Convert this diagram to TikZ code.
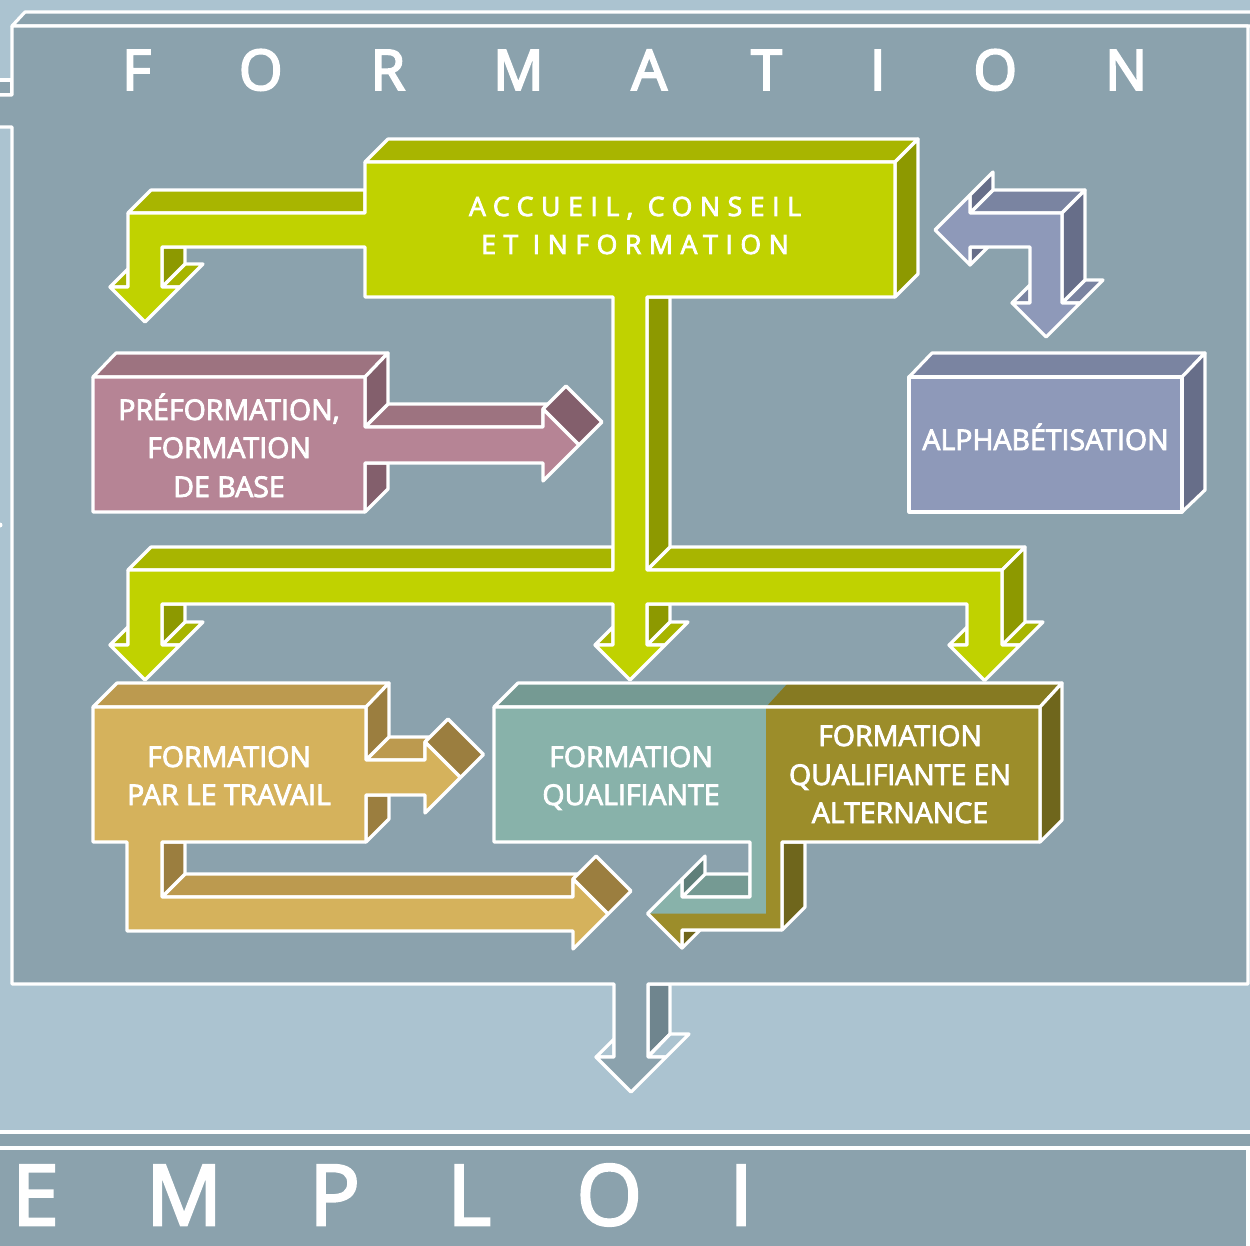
\documentclass[tikz,border=0pt]{standalone}
\usepackage{fontspec}
\setmainfont{Open Sans}
\newfontfamily\boxfont{Open Sans}[FakeBold=3]
\newfontfamily\accfont{Open Sans}[FakeBold=3,LetterSpace=28.5]
\newfontfamily\titlefont{Open Sans}[FakeBold=3.5,LetterSpace=157]
\newfontfamily\emploifont{Open Sans}[FakeBold=3,LetterSpace=104]
\definecolor{lightbg}{HTML}{ABC3D0}
\definecolor{greyf}{HTML}{8BA2AD}
\definecolor{greyd}{HTML}{6F858E}
\definecolor{gfront}{HTML}{C0D200}
\definecolor{gtop}{HTML}{A8B500}
\definecolor{gside}{HTML}{8D9900}
\definecolor{lfront}{HTML}{8E99B9}
\definecolor{ltop}{HTML}{7A84A1}
\definecolor{lside}{HTML}{676E89}
\definecolor{pfront}{HTML}{B68495}
\definecolor{ptop}{HTML}{9D7380}
\definecolor{pside}{HTML}{835F6C}
\definecolor{tfront}{HTML}{D5B25C}
\definecolor{ttop}{HTML}{BC9A4F}
\definecolor{tside}{HTML}{9B7E3F}
\definecolor{qfront}{HTML}{88B2AA}
\definecolor{qtop}{HTML}{759A93}
\definecolor{qside}{HTML}{5F7F79}
\definecolor{ofront}{HTML}{9C8D2A}
\definecolor{otop}{HTML}{867A22}
\definecolor{oside}{HTML}{6F661C}
\begin{document}
\begin{tikzpicture}[x=1pt,y=-1pt,
  face/.style={draw=white,line width=3.2pt,line join=round},
  lbl/.style={text=white,anchor=base,inner sep=0pt,font=\boxfont\fontsize{28.5}{32}\selectfont}]
\useasboundingbox (0,0) rectangle (1250,1246);
\clip (0,0) rectangle (1250,1246);
\fill[lightbg] (0,0) rectangle (1250,1246);

% ---------- FORMATION frame ----------
\draw[face,fill=greyf] (-10,80) rectangle (12,95);
\draw[face,fill=greyf] (12,26)--(25,12)--(1262,12)--(1262,26)--cycle;
\draw[face,fill=greyd] (648,984)--(670,984)--(670,1034)--(648,1056)--cycle;
\draw[face] (648,1057)--(666,1057)--(689,1034)--(670,1034)--cycle;
\draw[face] (596,1057)--(614,1057)--(614,1039)--cycle;
\draw[face,fill=greyf] (12,26)--(1248,26)--(1248,984)--(648,984)--(648,1057)--(666,1057)--(631,1092)--(596,1057)--(614,1057)--(614,984)--(12,984)--(12,127)--(-10,127)--(-10,95)--(12,95)--cycle;
\fill[white] (0,525) circle (2.5);
\node[text=white,anchor=base west,inner sep=0pt,font=\titlefont\fontsize{56}{60}\selectfont] (title) at (122,90) {FORMATION};

% ---------- EMPLOI ----------
\draw[face,fill=greyf] (-10,1132)--(1262,1132)--(1262,1148)--(-10,1148)--cycle;
\draw[face,fill=greyf] (-10,1148)--(1248,1148)--(1248,1262)--(-10,1262)--cycle;
\node[text=white,anchor=base west,inner sep=0pt,font=\emploifont\fontsize{84}{90}\selectfont] (emploi) at (12,1225) {EMPLOI};

% ---------- green: accueil ----------
\begin{scope}[every path/.append style={face}]
\draw[fill=gtop] (365,162)--(388,139)--(918,139)--(895,162)--cycle;
\draw[fill=gtop] (128,213)--(151,190)--(365,190)--(365,213)--cycle;
\draw[fill=gtop] (128,570)--(151,547)--(613,547)--(613,570)--cycle;
\draw[fill=gtop] (647,570)--(670,547)--(1025,547)--(1002,570)--cycle;
\draw[fill=gtop] (162,287)--(180,287)--(203,264)--(185,264)--cycle;
\draw[fill=gtop] (110,287)--(128,287)--(128,269)--cycle;
\draw[fill=gtop] (162,645)--(180,645)--(203,622)--(185,622)--cycle;
\draw[fill=gtop] (110,645)--(128,645)--(128,627)--cycle;
\draw[fill=gtop] (647,645)--(665,645)--(688,622)--(670,622)--cycle;
\draw[fill=gtop] (595,645)--(613,645)--(613,627)--cycle;
\draw[fill=gtop] (1002,645)--(1020,645)--(1043,622)--(1025,622)--cycle;
\draw[fill=gtop] (949,645)--(967,645)--(967,627)--cycle;
\draw[fill=gside] (895,162)--(918,139)--(918,274)--(895,297)--cycle;
\draw[fill=gside] (647,297)--(670,297)--(670,547)--(647,570)--cycle;
\draw[fill=gside] (647,604)--(670,604)--(670,622)--(647,645)--cycle;
\draw[fill=gside] (1002,570)--(1025,547)--(1025,622)--(1002,645)--cycle;
\draw[fill=gside] (162,604)--(185,604)--(185,622)--(162,645)--cycle;
\draw[fill=gside] (162,247)--(185,247)--(185,264)--(162,287)--cycle;
\draw[fill=gfront] (365,162)--(895,162)--(895,297)--(647,297)--(647,570)--(1002,570)--(1002,645)--(1020,645)--(984.5,680.5)--(949,645)--(967,645)--(967,604)--(647,604)--(647,645)--(665,645)--(630,680)--(595,645)--(613,645)--(613,604)--(162,604)--(162,645)--(180,645)--(145,680)--(110,645)--(128,645)--(128,570)--(613,570)--(613,297)--(365,297)--(365,247)--(162,247)--(162,287)--(180,287)--(145,322)--(110,287)--(128,287)--(128,213)--(365,213)--cycle;
\end{scope}
\node[lbl,font=\accfont\fontsize{26.6}{32}\selectfont] (acc1) at (635,216) {ACCUEIL, CONSEIL};
\node[lbl,font=\accfont\fontsize{26.6}{32}\selectfont] (acc2) at (635,254) {ET INFORMATION};

% ---------- lavender ----------
\begin{scope}[every path/.append style={face}]
\draw[fill=ltop] (970,213)--(993,190)--(1085,190)--(1062,213)--cycle;
\draw[fill=ltop] (1062,303)--(1080,303)--(1103,280)--(1085,280)--cycle;
\draw[fill=ltop] (1012,303)--(1030,303)--(1030,285)--cycle;
\draw[fill=lside] (970,195)--(970,213)--(993,190)--(993,172)--cycle;
\draw[fill=lside] (970,247)--(970,265)--(988,247)--cycle;
\draw[fill=lside] (1062,213)--(1085,190)--(1085,280)--(1062,303)--cycle;
\draw[fill=lfront] (935,230)--(970,195)--(970,213)--(1062,213)--(1062,303)--(1080,303)--(1046,337)--(1012,303)--(1030,303)--(1030,247)--(970,247)--(970,265)--cycle;
\draw[fill=ltop] (909,377)--(932,353)--(1205,353)--(1182,377)--cycle;
\draw[fill=lside] (1182,377)--(1205,353)--(1205,490)--(1182,512)--cycle;
\draw[fill=lfront] (909,377) rectangle (1182,512);
\end{scope}
\node[lbl] (alpha) at (1045.5,450) {ALPHABÉTISATION};

% ---------- pink ----------
\begin{scope}[every path/.append style={face}]
\draw[fill=ptop] (93,377)--(116,353)--(388,353)--(365,377)--cycle;
\draw[fill=ptop] (365,427)--(388,404)--(548,404)--(543,409)--(543,427)--cycle;
\draw[fill=pside] (365,377)--(388,353)--(388,404)--(365,427)--cycle;
\draw[fill=pside] (365,463)--(388,463)--(388,489)--(365,512)--cycle;
\draw[fill=pside] (543,409)--(579,445)--(602,422)--(566,386)--cycle;
\draw[fill=pfront] (93,377)--(365,377)--(365,427)--(543,427)--(543,409)--(579,445)--(543,481)--(543,463)--(365,463)--(365,512)--(93,512)--cycle;
\end{scope}
\node[lbl] (pre1) at (229,420) {PRÉFORMATION,};
\node[lbl] (pre2) at (229,458) {FORMATION};
\node[lbl] (pre3) at (229,497) {DE BASE};

% ---------- tan ----------
\begin{scope}[every path/.append style={face}]
\draw[fill=ttop] (93,707)--(117,683)--(389,683)--(366,707)--cycle;
\draw[fill=ttop] (366,760)--(389,737)--(430,737)--(425,742)--(425,760)--cycle;
\draw[fill=ttop] (162,897)--(185,874)--(578,874)--(573,879)--(573,897)--cycle;
\draw[fill=tside] (366,707)--(389,683)--(389,737)--(366,760)--cycle;
\draw[fill=tside] (366,795)--(389,795)--(389,819)--(366,842)--cycle;
\draw[fill=tside] (425,742)--(460.5,777.5)--(483.5,754.5)--(448,719)--cycle;
\draw[fill=tside] (162,842)--(185,842)--(185,874)--(162,897)--cycle;
\draw[fill=tside] (573,879)--(608,914)--(631,891)--(596,856)--cycle;
\draw[fill=tfront] (93,707)--(366,707)--(366,760)--(425,760)--(425,742)--(460.5,777.5)--(425,813)--(425,795)--(366,795)--(366,842)--(162,842)--(162,897)--(573,897)--(573,879)--(608,914)--(573,949)--(573,931)--(127,931)--(127,842)--(93,842)--cycle;
\end{scope}
\node[lbl] (trav1) at (229,767) {FORMATION};
\node[lbl] (trav2) at (229,805) {PAR LE TRAVAIL};

% ---------- teal / olive ----------
\fill[qtop] (494,707)--(518,683)--(788,683)--(766,707)--cycle;
\fill[otop] (766,707)--(788,683)--(1062,683)--(1040,707)--cycle;
\draw[face] (494,707)--(518,683)--(1062,683)--(1040,707)--cycle;
\begin{scope}[every path/.append style={face}]
\draw[fill=qtop] (682,897)--(705,874)--(750,874)--(750,897)--cycle;
\draw[fill=oside] (1040,707)--(1062,683)--(1062,820)--(1040,842)--cycle;
\draw[fill=oside] (782,842)--(805,842)--(805,907)--(782,930)--cycle;
\draw[fill=qside] (682,879)--(682,897)--(705,874)--(705,856)--cycle;
\draw[fill=oside] (682,930)--(682,948)--(700,930)--cycle;
\end{scope}
\fill[qfront] (494,707)--(1040,707)--(1040,842)--(782,842)--(782,930)--(682,930)--(682,948)--(647.5,913.5)--(682,879)--(682,897)--(750,897)--(750,842)--(494,842)--cycle;
\fill[ofront] (766,707)--(1040,707)--(1040,842)--(782,842)--(782,930)--(682,930)--(682,948)--(647.5,913.5)--(766,913.5)--cycle;
\draw[face] (494,707)--(1040,707)--(1040,842)--(782,842)--(782,930)--(682,930)--(682,948)--(647.5,913.5)--(682,879)--(682,897)--(750,897)--(750,842)--(494,842)--cycle;
\node[lbl] (qual1) at (631,767) {FORMATION};
\node[lbl] (qual2) at (631,805) {QUALIFIANTE};
\node[lbl] (alt1) at (900,746) {FORMATION};
\node[lbl] (alt2) at (900,785) {QUALIFIANTE EN};
\node[lbl] (alt3) at (900,823) {ALTERNANCE};
\end{tikzpicture}
\end{document}
